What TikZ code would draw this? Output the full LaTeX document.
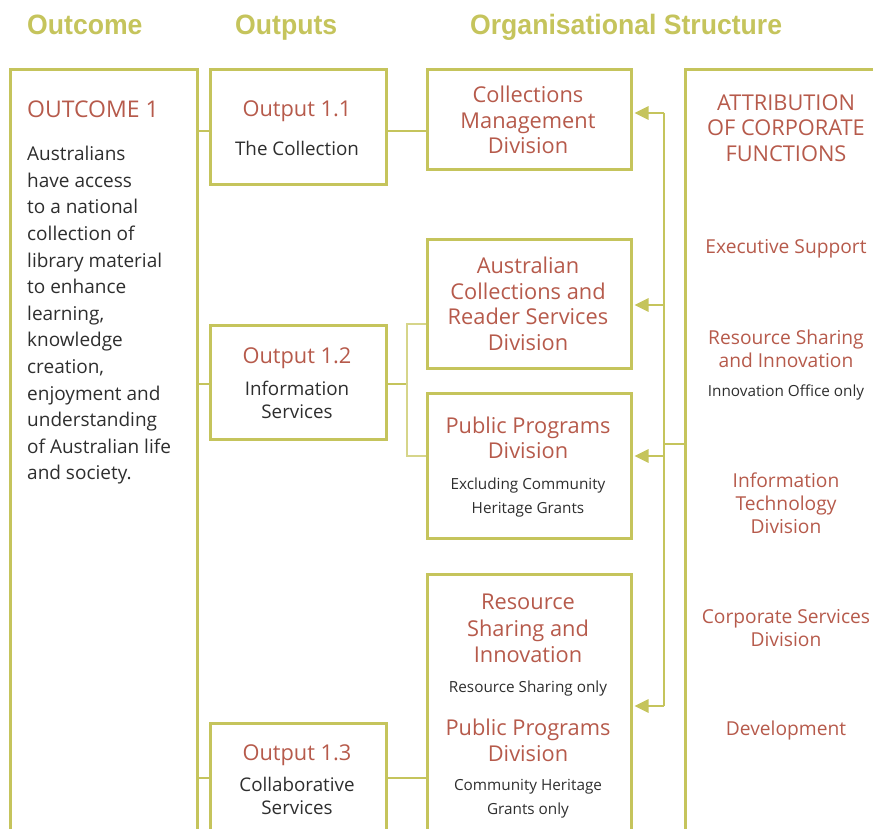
\documentclass[tikz,border=0pt]{standalone}
\usepackage{fontspec}
\setmainfont{Open Sans}
\newfontfamily\headfont[FakeStretch=0.95]{Liberation Sans Bold}
\usetikzlibrary{arrows.meta}
\definecolor{olive}{HTML}{C5C45C}
\definecolor{oliveL}{HTML}{D6D58A}
\definecolor{rust}{HTML}{B65A4B}
\definecolor{ink}{HTML}{2E2E2E}
\tikzset{
  box/.style={draw=olive, line width=3pt, rectangle, inner sep=0pt, anchor=north west},
  conn/.style={draw=olive, line width=2.6pt},
  thin/.style={draw=oliveL, line width=1.6pt},
  arr/.style={draw=olive, line width=2.6pt, -{Triangle[length=14pt,width=13pt]}},
  head/.style={text=olive, font=\headfont\fontsize{28}{30}\selectfont, anchor=base west, inner sep=0pt},
  red/.style={text=rust, font=\fontsize{21.8}{25.5}\selectfont, align=center, inner sep=0pt},
  redr/.style={text=rust, font=\fontsize{19.2}{23}\selectfont, align=center, inner sep=0pt},
  dark/.style={text=ink, font=\fontsize{18.8}{23.5}\selectfont, align=center, inner sep=0pt},
  small/.style={text=ink, font=\fontsize{15.3}{24}\selectfont, align=center, inner sep=0pt},
}
\begin{document}
\begin{tikzpicture}[x=1pt,y=-1pt]
\useasboundingbox (0,0) rectangle (873,829);
\clip (0,0) rectangle (873,829);
% headers
\node[head] (h1) at (27,35) {Outcome};
\node[head] (h2) at (235,35) {Outputs};
\node[head] (h3) at (470,35) {Organisational Structure};
% boxes
\node[box, minimum width=187pt, minimum height=840pt] (outcome) at (9,68) {};
\node[box, minimum width=176pt, minimum height=115pt] (o11) at (209,68) {};
\node[box, minimum width=176pt, minimum height=114pt] (o12) at (209,324) {};
\node[box, minimum width=176pt, minimum height=200pt] (o13) at (209,722) {};
\node[box, minimum width=204pt, minimum height=100pt] (cmd) at (426,68) {};
\node[box, minimum width=204pt, minimum height=129pt] (acr) at (426,238) {};
\node[box, minimum width=204pt, minimum height=145pt] (ppd) at (426,392) {};
\node[box, minimum width=204pt, minimum height=300pt] (rsi) at (426,573) {};
\node[box, minimum width=240pt, minimum height=840pt] (attr) at (684,68) {};
% outcome text
\node[text=rust, font=\fontsize{23}{25}\selectfont, anchor=base west, inner sep=0pt] (oc1) at (27,118) {OUTCOME 1};
\node[text=ink, font=\fontsize{19}{26.6}\selectfont, align=left, anchor=north west, inner sep=0pt] (octxt) at (27,146)
{Australians\\have access\\to a national\\collection of\\library material\\to enhance\\learning,\\knowledge\\creation,\\enjoyment and\\understanding\\of Australian life\\and society.};
% outputs text
\node[red] (t11) at (297,111.5) {Output 1.1};
\node[dark] (t11b) at (297,148.5) {The Collection};
\node[red] (t12) at (297,358) {Output 1.2};
\node[dark] (t12b) at (297,400) {Information\\Services};
\node[red] (t13) at (297,755.5) {Output 1.3};
\node[dark] (t13b) at (297,796) {Collaborative\\Services};
% org text
\node[red] (tcmd) at (528,120) {Collections\\Management\\Division};
\node[red] (tacr) at (528,304) {Australian\\Collections and\\Reader Services\\Division};
\node[red] (tppd) at (528,438) {Public Programs\\Division};
\node[small] (tppdb) at (528,497.5) {Excluding Community\\Heritage Grants};
\node[red, font=\fontsize{21.8}{26.5}\selectfont] (trsi) at (528,628.5) {Resource\\Sharing and\\Innovation};
\node[small] (trsib) at (528,689) {Resource Sharing only};
\node[red] (trpp) at (528,740.5) {Public Programs\\Division};
\node[small] (trppb) at (528,798.5) {Community Heritage\\Grants only};
% right panel text
\node[red] (ta) at (786,128) {ATTRIBUTION\\OF CORPORATE\\FUNCTIONS};
\node[redr] (ta1) at (786,249) {Executive Support};
\node[redr] (ta2) at (786,348.5) {Resource Sharing\\and Innovation};
\node[small] (ta2b) at (786,392.5) {Innovation Office only};
\node[redr] (ta3) at (786,503.5) {Information\\Technology\\Division};
\node[redr] (ta4) at (786,628) {Corporate Services\\Division};
\node[redr] (ta5) at (786,731) {Development};
% connectors outcome -> outputs
\draw[conn] (outcome.east |- 0,131) -- (o11.west |- 0,131);
\draw[conn] (outcome.east |- 0,384) -- (o12.west |- 0,384);
\draw[conn] (outcome.east |- 0,778) -- (o13.west |- 0,778);
% outputs -> org
\draw[conn] (o11.east |- 0,131) -- (cmd.west |- 0,131);
\coordinate (br) at (407,384);
\draw[conn] (o12.east |- br) -- (br);
\draw[thin] (acr.west |- 0,324) -- (407,324) -- (407,456) -- (ppd.west |- 0,456);
\draw[conn] (o13.east |- 0,778) -- (rsi.west |- 0,778);
% attribution arrows
\coordinate (sp) at (664,444);
\draw[conn] (664,113) -- (664,706);
\draw[conn] (attr.west |- sp) -- (sp);
\draw[arr] (664,113) -- ([xshift=1.5pt]cmd.east |- 0,113);
\draw[arr] (664,305) -- ([xshift=1.5pt]acr.east |- 0,305);
\draw[arr] (664,456) -- ([xshift=1.5pt]ppd.east |- 0,456);
\draw[arr] (664,706) -- ([xshift=1.5pt]rsi.east |- 0,706);
\end{tikzpicture}
\end{document}
